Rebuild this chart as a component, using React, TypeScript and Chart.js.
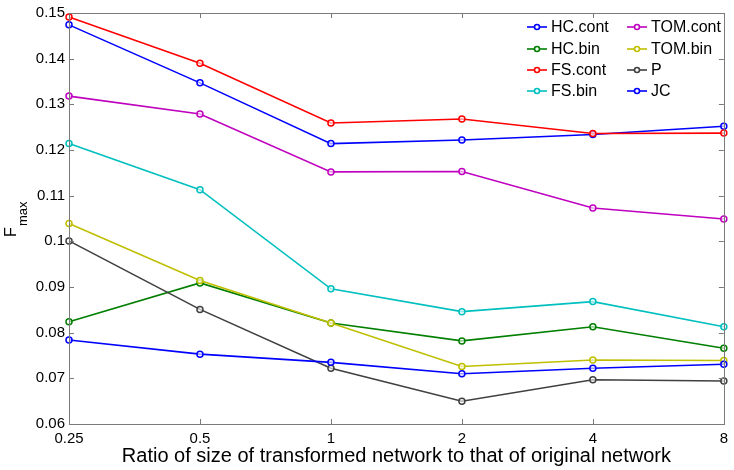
import React, { useEffect, useRef } from "react";
import { Chart, registerables } from "chart.js";

Chart.register(...registerables);

const categories = ["0.25", "0.5", "1", "2", "4", "8"];
const yTicks = [0.06, 0.07, 0.08, 0.09, 0.1, 0.11, 0.12, 0.13, 0.14, 0.15];

const hcCont = [0.1474, 0.1347, 0.1214, 0.1222, 0.1234, 0.1252];
const hcBin = [0.0824, 0.0909, 0.0821, 0.0782, 0.0813, 0.0766];
const fsCont = [0.1491, 0.139, 0.1259, 0.1268, 0.1236, 0.1237];
const fsBin = [0.1214, 0.1113, 0.0896, 0.0846, 0.0868, 0.0813];
const tomCont = [0.1318, 0.1279, 0.1152, 0.1153, 0.1073, 0.1049];
const tomBin = [0.1039, 0.0914, 0.0821, 0.0726, 0.074, 0.0739];
const pVals = [0.1001, 0.0851, 0.0722, 0.065, 0.0697, 0.0694];
const jcVals = [0.0784, 0.0753, 0.0735, 0.071, 0.0722, 0.0731];

const seriesNames = ["HC.cont", "HC.bin", "FS.cont", "FS.bin", "TOM.cont", "TOM.bin", "P", "JC"];
const seriesData = [hcCont, hcBin, fsCont, fsBin, tomCont, tomBin, pVals, jcVals];
const seriesColors = ["#0000ff", "#007f00", "#ff0000", "#00bfbf", "#bf00bf", "#bfbf00", "#404040", "#0000ff"];

const FONT = "'Liberation Sans', Arial, Helvetica, sans-serif";

const framePlugin = {
  id: "framePlugin",
  afterDraw(chart: any) {
    const ctx = chart.ctx;
    const { left, right, top, bottom } = chart.chartArea;
    const xs = chart.scales.x;
    const ys = chart.scales.y;
    ctx.save();
    ctx.strokeStyle = "#7a7a7a";
    ctx.lineWidth = 1;
    ctx.strokeRect(Math.round(left) + 0.5, Math.round(top) + 0.5, Math.round(right - left), Math.round(bottom - top));
    ctx.beginPath();
    const tl = 5;
    yTicks.forEach((v) => {
      const y = Math.round(ys.getPixelForValue(v)) + 0.5;
      ctx.moveTo(left, y);
      ctx.lineTo(left + tl, y);
      ctx.moveTo(right, y);
      ctx.lineTo(right - tl, y);
    });
    categories.forEach((_, i) => {
      const x = Math.round(xs.getPixelForValue(i)) + 0.5;
      ctx.moveTo(x, bottom);
      ctx.lineTo(x, bottom - tl);
      ctx.moveTo(x, top);
      ctx.lineTo(x, top + tl);
    });
    ctx.stroke();

    // legend
    ctx.font = `16px ${FONT}`;
    ctx.textBaseline = "middle";
    ctx.textAlign = "left";
    const colX = [527, 627];
    const rowY = [27, 49, 70, 91];
    seriesNames.forEach((name, i) => {
      const col = Math.floor(i / 4);
      const row = i % 4;
      const x0 = colX[col];
      const y0 = rowY[row];
      ctx.strokeStyle = seriesColors[i];
      ctx.lineWidth = 1.6;
      ctx.beginPath();
      ctx.moveTo(x0, y0);
      ctx.lineTo(x0 + 20, y0);
      ctx.stroke();
      ctx.beginPath();
      ctx.arc(x0 + 10, y0, 2.5, 0, Math.PI * 2);
      ctx.fillStyle = "#ffffff";
      ctx.fill();
      ctx.stroke();
      ctx.fillStyle = "#000";
      ctx.fillText(name, x0 + 24, y0 + 1);
    });

    // x title
    ctx.font = `20px ${FONT}`;
    ctx.textAlign = "center";
    ctx.textBaseline = "alphabetic";
    ctx.fillStyle = "#000";
    ctx.fillText("Ratio of size of transformed network to that of original network", (left + right) / 2, 462);

    // y title F_max
    ctx.save();
    ctx.translate(16, 237);
    ctx.rotate(-Math.PI / 2);
    ctx.textAlign = "left";
    ctx.font = `16px ${FONT}`;
    ctx.fillText("F", 0, 0);
    ctx.font = `13px ${FONT}`;
    ctx.fillText("max", 11, 11);
    ctx.restore();

    ctx.restore();
  },
};

export default function App() {
  const ref = useRef<HTMLCanvasElement>(null);
  useEffect(() => {
    if (!ref.current) return;
    const chart = new Chart(ref.current, {
      type: "line",
      data: {
        labels: categories,
        datasets: seriesNames.map((name, i) => ({
          label: name,
          data: seriesData[i],
          borderColor: seriesColors[i],
          backgroundColor: seriesColors[i],
          borderWidth: 1.6,
          pointRadius: 3,
          pointBorderWidth: 1.5,
          pointBackgroundColor: "rgba(255,255,255,0.6)",
          pointBorderColor: seriesColors[i],
          tension: 0,
          fill: false,
          order: seriesNames.length - i,
        })),
      },
      options: {
        responsive: false,
        animation: false,
        devicePixelRatio: 1,
        layout: { padding: { top: 10, right: 10, left: 0, bottom: 0 } },
        plugins: { legend: { display: false }, tooltip: { enabled: false }, title: { display: false } },
        scales: {
          x: {
            type: "category",
            offset: false,
            grid: { display: false, drawTicks: false },
            border: { display: false },
            ticks: { font: { family: FONT, size: 15 }, color: "#000", padding: 6, maxRotation: 0, autoSkip: false },
            afterFit: (s: any) => {
              s.height = 46;
            },
          },
          y: {
            type: "linear",
            min: 0.06,
            max: 0.15,
            grid: { display: false, drawTicks: false },
            border: { display: false },
            ticks: {
              stepSize: 0.01,
              font: { family: FONT, size: 15 },
              color: "#000",
              padding: 4,
              callback: (v: any) => String(+Number(v).toFixed(2)),
            },
            afterFit: (s: any) => {
              s.width = 69;
            },
          },
        },
      },
      plugins: [framePlugin],
    });
    return () => chart.destroy();
  }, []);
  return (
    <div style={{ position: "fixed", left: 0, top: 0, width: 734, height: 470, background: "#fff" }}>
      <canvas ref={ref} width={734} height={470} style={{ width: 734, height: 470 }} />
    </div>
  );
}
